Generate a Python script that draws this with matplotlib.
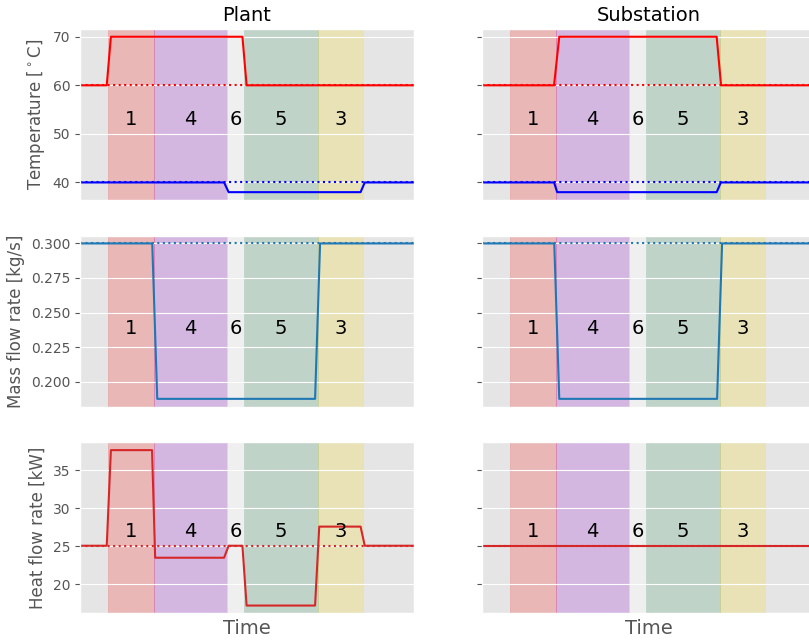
import matplotlib
matplotlib.use("Agg")
import matplotlib.pyplot as plt

plt.style.use("ggplot")

# Time axis (arbitrary units)
t_start, t_end = 0.0, 80.0

# Operating phases: edges, labels and shading colours
phase_edges = [6.78, 17.8, 35.14, 39.28, 56.93, 67.78]
phase_labels = ["1", "4", "6", "5", "3"]
phase_colors = ["red", "darkviolet", "white", "seagreen", "gold"]
phase_alphas = [0.2, 0.2, 0.4, 0.2, 0.2]

# Plant temperatures
t_plant_supply = [0, 6.4, 7.4, 38.9, 39.9, 80]
T_plant_supply = [60, 60, 70, 70, 60, 60]
t_plant_return = [0, 34.5, 35.6, 67.2, 68.2, 80]
T_plant_return = [40, 40, 38, 38, 40, 40]

# Substation temperatures
t_sub_supply = [0, 17.25, 18.5, 56.2, 57.25, 80]
T_sub_supply = [60, 60, 70, 70, 60, 60]
t_sub_return = [0, 17.25, 18.0, 56.2, 57.2, 80]
T_sub_return = [40, 40, 38, 38, 40, 40]

# Mass flow rate (same at plant and substation)
t_mass = [0, 17.3, 18.5, 56.3, 57.5, 80]
m_plant = [0.3, 0.3, 0.1875, 0.1875, 0.3, 0.3]
m_sub = [0.3, 0.3, 0.1875, 0.1875, 0.3, 0.3]

# Heat flow rates
t_heat_plant = [0, 6.4, 7.4, 17.25, 18.0, 34.5, 35.6, 38.9, 39.9, 56.3, 57.3, 67.2, 68.2, 80]
Q_plant = [25.08, 25.08, 37.62, 37.62, 23.51, 23.51, 25.08, 25.08, 17.24, 17.24,
           27.59, 27.59, 25.08, 25.08]
t_heat_sub = [0, 80]
Q_sub = [25.08, 25.08]

# Nominal (reference) levels drawn dotted
T_supply_nominal = 60
T_return_nominal = 40
m_nominal = 0.3
Q_nominal = 25.08

# Vertical position of phase numbers in each row (data units)
label_y = [53.0, 0.2387, 27.0]

fig, axes = plt.subplots(3, 2, figsize=(8.09, 6.41), dpi=100, sharey="row")
fig.subplots_adjust(left=0.0989, right=1.0087, top=0.9548, bottom=0.0432,
                    wspace=0.2036, hspace=0.209)

lw = 1.5
for col in range(2):
    ax_T, ax_m, ax_Q = axes[:, col]
    if col == 0:
        ax_T.plot(t_plant_supply, T_plant_supply, color="red", lw=lw)
        ax_T.plot(t_plant_return, T_plant_return, color="blue", lw=lw)
        ax_m.plot(t_mass, m_plant, color="tab:blue", lw=lw)
        ax_Q.plot(t_heat_plant, Q_plant, color="tab:red", lw=lw)
    else:
        ax_T.plot(t_sub_supply, T_sub_supply, color="red", lw=lw)
        ax_T.plot(t_sub_return, T_sub_return, color="blue", lw=lw)
        ax_m.plot(t_mass, m_sub, color="tab:blue", lw=lw)
        ax_Q.plot(t_heat_sub, Q_sub, color="tab:red", lw=lw)

    ax_T.plot([t_start, t_end], [T_supply_nominal] * 2, ls=":", color="red", lw=lw)
    ax_T.plot([t_start, t_end], [T_return_nominal] * 2, ls=":", color="blue", lw=lw)
    ax_m.plot([t_start, t_end], [m_nominal] * 2, ls=":", color="tab:blue", lw=lw)
    ax_Q.plot([t_start, t_end], [Q_nominal] * 2, ls=":", color="tab:red", lw=lw)

    for row, ax in enumerate((ax_T, ax_m, ax_Q)):
        for i, lab in enumerate(phase_labels):
            x0, x1 = phase_edges[i], phase_edges[i + 1]
            ax.axvspan(x0, x1, color=phase_colors[i], alpha=phase_alphas[i], zorder=0.5)
            ax.text((x0 + x1) / 2, label_y[row], lab, ha="center", va="center",
                    fontsize=14, color="black")
        ax.set_xlim(t_start, t_end)
        ax.set_xticks([])
        ax.tick_params(axis="y", labelsize=10)

axes[0, 0].set_title("Plant", fontsize=14, color="black")
axes[0, 1].set_title("Substation", fontsize=14, color="black")
axes[0, 0].set_ylabel("Temperature [$^\\circ$C]", fontsize=12)
axes[1, 0].set_ylabel("Mass flow rate [kg/s]", fontsize=12)
axes[2, 0].set_ylabel("Heat flow rate [kW]", fontsize=12)
axes[2, 0].set_xlabel("Time", fontsize=14)
axes[2, 1].set_xlabel("Time", fontsize=14)

fig.savefig("out.png", dpi=100)
